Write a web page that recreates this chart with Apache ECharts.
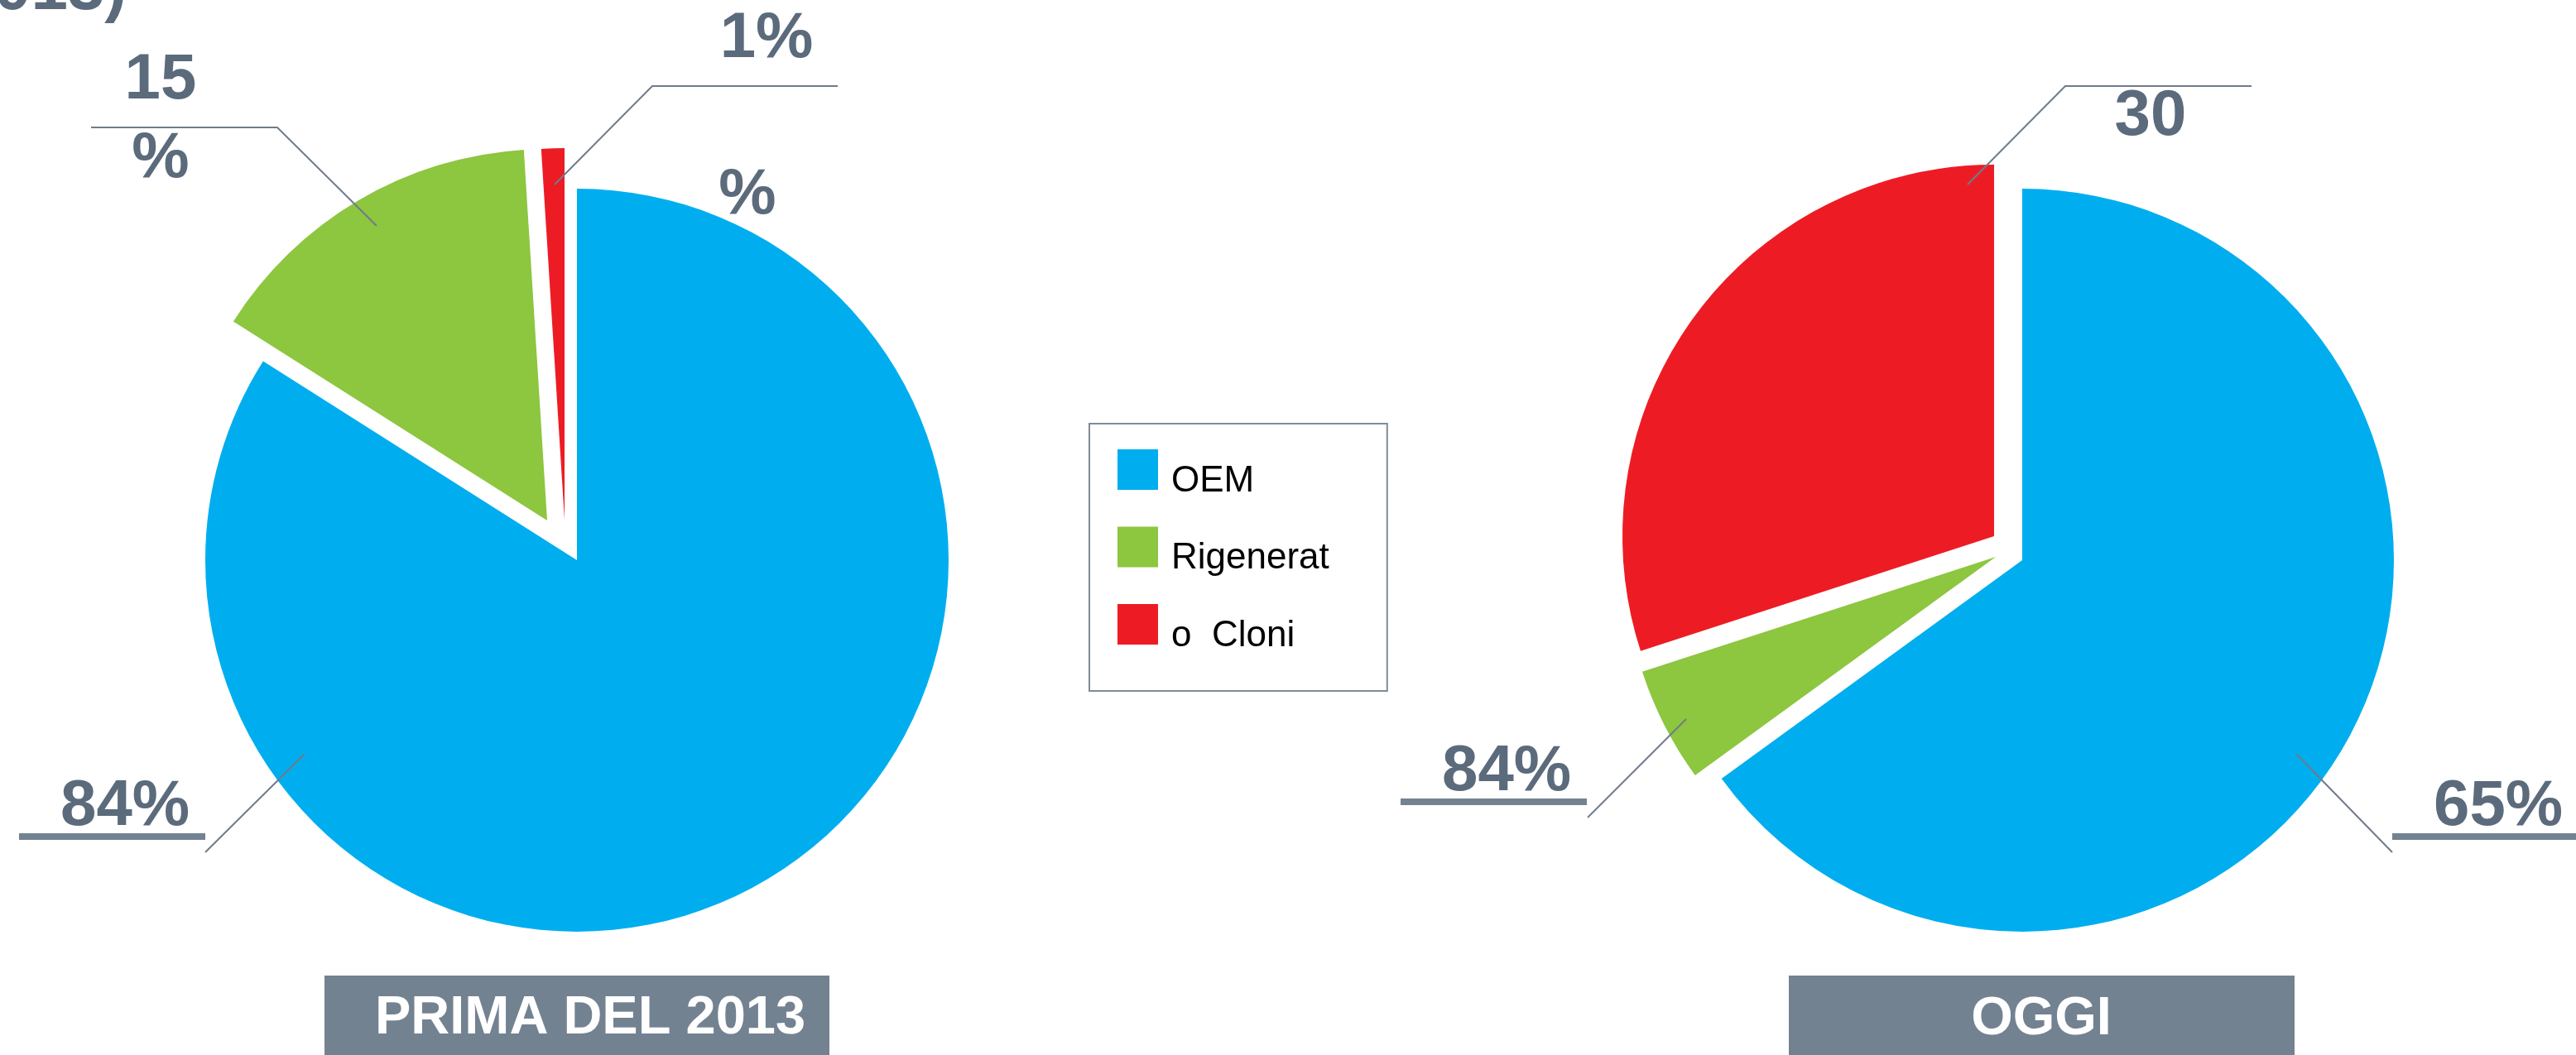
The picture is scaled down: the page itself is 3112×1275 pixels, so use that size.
<!DOCTYPE html>
<html>
<head>
<meta charset="utf-8">
<style>
  html, body { margin: 0; padding: 0; background: #fff; }
  #chart { width: 3112px; height: 1275px; }
</style>
<script src="https://cdn.jsdelivr.net/npm/echarts@6/dist/echarts.min.js"></script>
</head>
<body>
<div id="chart"></div>
<script>
// data
const categories = ['OEM', 'Rigenerat', 'o  Cloni'];
const beforeValues = [84, 15, 1];
const todayValues = [65, 5, 30];
const beforeLabels = ['84%', '15\n%', '1%'];
const todayLabels = ['65%', '84%', '30'];
const periodTitles = ['PRIMA DEL 2013', 'OGGI'];

const colors = ['#00AEEF', '#8DC63F', '#ED1C24'];
const slate = '#5B6B7C';
const lineGrey = '#6F7C8A';
const boxGrey = '#738291';
const clear = 'rgba(0,0,0,0)';
const font = 'Liberation Sans';

const R = 449;
const centers = [[697, 677], [2443, 677]];
// how far each slice is pulled out of its pie
const pullOut = [
  [[0, 0], [-36, -48], [-15, -49]],
  [[0, 0], [-32, -4], [-34, -29]]
];

// label spots, offsets from each pie centre (bar = underlined label)
const spots = [
  [
    { at: [-674, 266], align: 'left', va: 'top', bar: true, line: [[-329, 234], [-449, 353], [-449, 353]] },
    { at: [-503, -532], align: 'center', va: 'middle', line: [[-242, -404], [-362, -523], [-587, -523]] },
    { at: [229, -630], align: 'center', va: 'middle', line: [[-27, -454], [91, -573], [315, -573]] }
  ],
  [
    { at: [447, 266], align: 'left', va: 'top', bar: true, line: [[331, 234], [447, 353], [447, 353]] },
    { at: [-751, 224], align: 'left', va: 'top', bar: true, line: [[-406, 192], [-525, 311], [-525, 311]] },
    { at: [155, -536], align: 'center', va: 'middle', line: [[-66, -454], [52, -573], [277, -573]] }
  ]
];

const common = {
  type: 'pie',
  radius: R,
  startAngle: 90,
  avoidLabelOverlap: false,
  selectedMode: false,
  emphasis: { disabled: true },
  silent: true
};

// one series per visible slice so every slice can be pulled out its own way
function sliceSeries(i, k, values) {
  const c = centers[i];
  const d = pullOut[i][k];
  return Object.assign({}, common, {
    z: 2,
    center: [c[0] + d[0], c[1] + d[1]],
    label: { show: false },
    labelLine: { show: false },
    data: categories.map((name, j) => ({
      name,
      value: values[j],
      itemStyle: { color: j === k ? colors[j] : clear }
    }))
  });
}

// invisible pie on top carrying the labels and leader lines
function labelSeries(i, values, labels) {
  const c = centers[i];
  return Object.assign({}, common, {
    z: 5,
    center: c,
    data: categories.map((name, j) => ({ name, value: values[j], itemStyle: { color: clear } })),
    label: {
      show: true,
      position: 'outside',
      color: slate,
      fontFamily: font,
      fontWeight: 'bold',
      fontSize: 78,
      lineHeight: 95,
      formatter: p => spots[i][p.dataIndex].bar
        ? '{v|' + labels[p.dataIndex] + '}\n{bar|}'
        : labels[p.dataIndex],
      rich: {
        v: { color: slate, fontFamily: font, fontWeight: 'bold', fontSize: 78, lineHeight: 64, padding: [0, 0, 0, 50] },
        bar: { width: 225, height: 8, lineHeight: 8, backgroundColor: boxGrey }
      }
    },
    labelLine: { show: true, lineStyle: { color: lineGrey, width: 2 } },
    labelLayout: p => {
      const s = spots[i][p.dataIndex];
      return {
        x: c[0] + s.at[0],
        y: c[1] + s.at[1],
        align: s.align,
        verticalAlign: s.va,
        labelLinePoints: s.line.map(pt => [c[0] + pt[0], c[1] + pt[1]])
      };
    }
  });
}

const chart = echarts.init(document.getElementById('chart'));

const series = [];
[beforeValues, todayValues].forEach((values, i) => {
  categories.forEach((n, k) => series.push(sliceSeries(i, k, values)));
});
series.push(labelSeries(0, beforeValues, beforeLabels));
series.push(labelSeries(1, todayValues, todayLabels));

const option = {
  backgroundColor: '#fff',
  animation: false,
  color: colors,
  legend: {
    orient: 'vertical',
    left: 1316,
    top: 512,
    data: categories.map((name, k) => ({ name, itemStyle: { color: colors[k], borderWidth: 0, opacity: 1 } })),
    // square sitting in the top of a taller box so the text lands lower
    icon: 'path://M0,0h49v49H0z M0,77h1',
    itemWidth: 49,
    itemHeight: 77,
    itemGap: 16.5,
    padding: [31, 70, 28, 34],
    borderColor: '#7F8B97',
    borderWidth: 2,
    selectedMode: false,
    textStyle: { fontFamily: font, fontSize: 44, color: '#000', padding: [0, 0, 0, 11] }
  },
  graphic: [
    // cut-off heading at the top edge
    { type: 'text', x: 153, y: -11, style: { text: '(2013)', fill: slate, font: 'bold 80px "Liberation Sans"', align: 'right', verticalAlign: 'middle' } },
    // stray percent sign
    { type: 'text', x: 903, y: 236, style: { text: '%', fill: slate, font: 'bold 78px "Liberation Sans"', align: 'center', verticalAlign: 'middle' } },
    { type: 'rect', shape: { x: 392, y: 1179, width: 610, height: 100 }, style: { fill: boxGrey } },
    { type: 'text', x: 713, y: 1231, style: { text: periodTitles[0], fill: '#fff', font: 'bold 65px "Liberation Sans"', align: 'center', verticalAlign: 'middle' } },
    { type: 'rect', shape: { x: 2161, y: 1179, width: 611, height: 100 }, style: { fill: boxGrey } },
    { type: 'text', x: 2466, y: 1232, style: { text: periodTitles[1], fill: '#fff', font: 'bold 65px "Liberation Sans"', align: 'center', verticalAlign: 'middle' } }
  ],
  series: series
};

chart.setOption(option);
window.addEventListener('resize', () => chart.resize());
</script>
</body>
</html>
